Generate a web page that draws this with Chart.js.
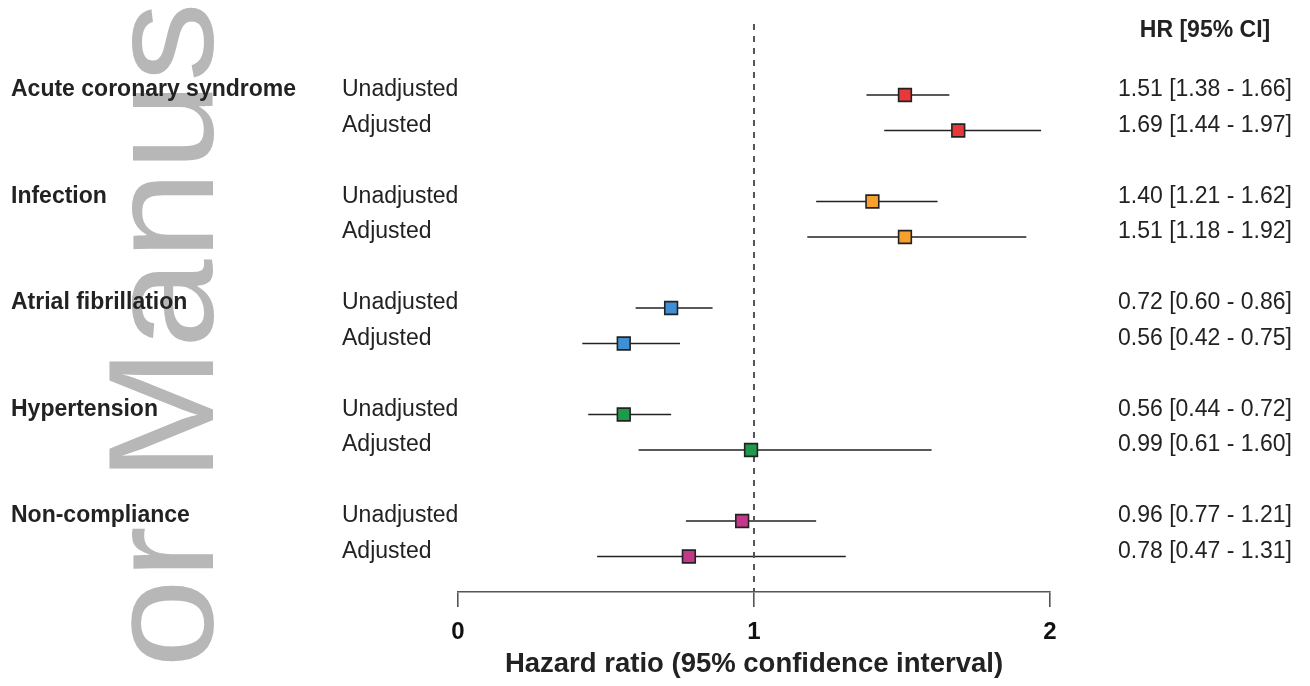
<!DOCTYPE html>
<html>
<head>
<meta charset="utf-8">
<script src="https://cdn.jsdelivr.net/npm/chart.js@4/dist/chart.umd.min.js"></script>
<style>
html,body{margin:0;padding:0;background:#fff;}
#wrap{width:1310px;height:686px;position:relative;}
</style>
</head>
<body>
<div id="wrap"><canvas id="c" width="1310" height="686"></canvas></div>
<script>
// ---- data ----
const groups = ['Acute coronary syndrome', 'Infection', 'Atrial fibrillation', 'Hypertension', 'Non-compliance'];
const models = ['Unadjusted', 'Adjusted'];
const hr    = [1.51, 1.69, 1.40, 1.51, 0.72, 0.56, 0.56, 0.99, 0.96, 0.78];
const lower = [1.38, 1.44, 1.21, 1.18, 0.60, 0.42, 0.44, 0.61, 0.77, 0.47];
const upper = [1.66, 1.97, 1.62, 1.92, 0.86, 0.75, 0.72, 1.60, 1.21, 1.31];
const groupColors = ['#e8383a', '#f6a12c', '#3f8fd4', '#1f9a4c', '#c4388a'];
const xTicks = [0, 1, 2];
const refValue = 1;
const headerText = 'HR [95% CI]';
const axisTitle = 'Hazard ratio (95% confidence interval)';
const watermark = 'or Manus';

// rows: each group takes 3 slots (2 rows + gap)
const rowPos = hr.map((_, i) => Math.floor(i / 2) * 3 + (i % 2));
const fmt = v => v.toFixed(2);

const datasets = [];
hr.forEach((v, i) => {
  datasets.push({
    type: 'scatter',
    data: [{x: lower[i], y: rowPos[i]}, {x: upper[i], y: rowPos[i]}],
    showLine: true,
    borderColor: '#222',
    borderWidth: 1.6,
    pointRadius: 0,
    order: 3
  });
});
datasets.push({
  type: 'scatter',
  data: [{x: refValue, y: -2}, {x: refValue, y: 14}],
  showLine: true,
  borderColor: '#555',
  borderWidth: 2,
  borderDash: [6, 6],
  pointRadius: 0,
  order: 2
});
datasets.push({
  type: 'scatter',
  data: hr.map((v, i) => ({x: v, y: rowPos[i]})),
  pointStyle: 'rect',
  pointRadius: 9,
  pointBackgroundColor: hr.map((v, i) => groupColors[Math.floor(i / 2)]),
  pointBorderColor: '#222',
  pointBorderWidth: 1.6,
  showLine: false,
  order: 1
});

const FONT = "'Liberation Sans', Arial, sans-serif";

const decor = {
  id: 'decor',
  beforeDraw(chart) {
    const ctx = chart.ctx;
    ctx.save();
    ctx.translate(213, 668);
    ctx.rotate(-Math.PI / 2);
    ctx.scale(1.065, 1);
    ctx.fillStyle = '#b7b7b7';
    ctx.font = "150px " + FONT;
    ctx.textAlign = 'left';
    ctx.textBaseline = 'alphabetic';
    ctx.fillText(watermark, 0, 0);
    ctx.restore();
  },
  afterDraw(chart) {
    const ctx = chart.ctx;
    const ys = chart.scales.y;
    ctx.save();
    ctx.fillStyle = '#222';
    ctx.textBaseline = 'alphabetic';
    hr.forEach((v, i) => {
      const y = ys.getPixelForValue(rowPos[i]) + 1;
      if (i % 2 === 0) {
        ctx.font = "bold 23px " + FONT;
        ctx.textAlign = 'left';
        ctx.fillText(groups[i / 2], 11, y);
      }
      ctx.font = "23px " + FONT;
      ctx.textAlign = 'left';
      ctx.fillText(models[i % 2], 342, y);
      ctx.fillText(fmt(v) + ' [' + fmt(lower[i]) + ' - ' + fmt(upper[i]) + ']', 1118, y);
    });
    ctx.font = "bold 23px " + FONT;
    ctx.textAlign = 'center';
    ctx.fillText(headerText, 1205, 37);
    ctx.restore();
  }
};

new Chart(document.getElementById('c'), {
  data: {datasets},
  options: {
    responsive: false,
    animation: false,
    layout: {padding: {left: 458, right: 260, top: 24, bottom: 5}},
    plugins: {legend: {display: false}, tooltip: {enabled: false}},
    scales: {
      x: {
        type: 'linear',
        min: 0, max: 2,
        afterBuildTicks: s => { s.ticks = xTicks.map(v => ({value: v})); },
        afterFit: s => { s.height = 89; },
        grid: {drawOnChartArea: false, drawTicks: true, tickLength: 15, color: '#555', lineWidth: 1.6},
        border: {display: true, color: '#555', width: 1.6},
        ticks: {color: '#111', font: {family: FONT, size: 24, weight: 'bold', lineHeight: 1.0}, padding: 13, maxRotation: 0},
        title: {display: true, text: axisTitle, color: '#222', font: {family: FONT, size: 27.5, weight: 'bold'}, padding: {top: 0, bottom: 0}}
      },
      y: {
        type: 'linear',
        min: -2, max: 14,
        reverse: true,
        display: false
      }
    }
  },
  plugins: [decor]
});
</script>
</body>
</html>
